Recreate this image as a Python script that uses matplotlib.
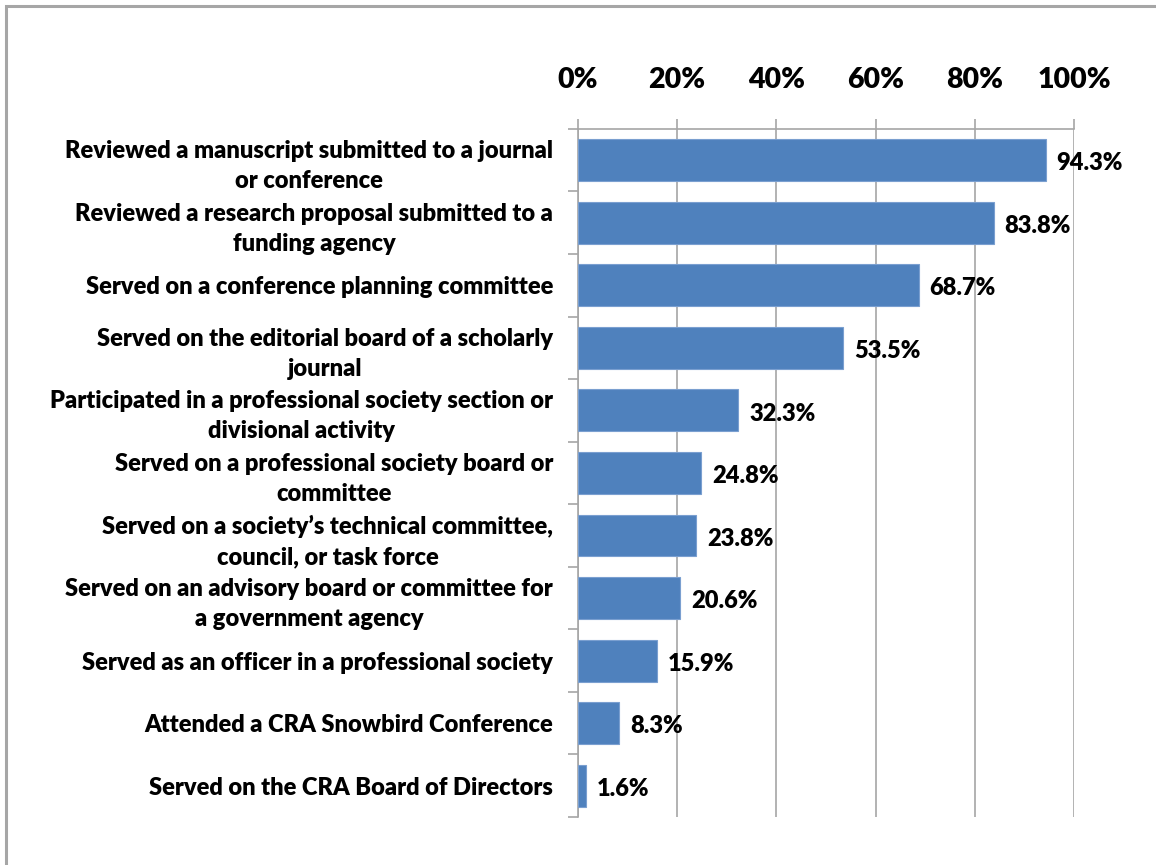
import matplotlib
matplotlib.use("Agg")
import matplotlib.pyplot as plt
from matplotlib.patches import Rectangle
from matplotlib.ticker import FixedLocator

categories = [
    "Reviewed a manuscript submitted to a journal\nor conference",
    "Reviewed a research proposal submitted to a\nfunding agency",
    "Served on a conference planning committee",
    "Served on the editorial board of a scholarly\njournal",
    "Participated in a professional society section or\ndivisional activity",
    "Served on a professional society board or\ncommittee",
    "Served on a society\u2019s technical committee,\ncouncil, or task force",
    "Served on an advisory board or committee for\na government agency",
    "Served as an officer in a professional society",
    "Attended a CRA Snowbird Conference",
    "Served on the CRA Board of Directors",
]
values = [94.3, 83.8, 68.7, 53.5, 32.3, 24.8, 23.8, 20.6, 15.9, 8.3, 1.6]
xticks = [0, 20, 40, 60, 80, 100]
xtick_labels = ["0%", "20%", "40%", "60%", "80%", "100%"]

plt.rcParams['font.family'] = ['Lato', 'DejaVu Sans']
plt.rcParams['font.weight'] = 'heavy'

fig = plt.figure(figsize=(11.56, 8.65), dpi=100)
ax = fig.add_axes([0.5, 0.0555, 0.429, 0.7955])

grid_col = '#A6A6A6'
n = len(values)
ypos = list(range(n))
ax.barh(ypos, values, height=0.67, color='#4F81BD', edgecolor='#7A9FD0', linewidth=0.8, zorder=3)
ax.set_ylim(n - 0.5, -0.5)
ax.set_xlim(0, 100)

# value labels
for y, v in zip(ypos, values):
    ax.text(v + 2.2, y + 0.05, f"{v:.1f}%", va='center', ha='left', fontsize=17,
            fontweight='heavy', zorder=4)

ax.xaxis.tick_top()
ax.set_xticks(xticks)
ax.set_xticklabels(xtick_labels, fontsize=20.5, fontweight='heavy')
ax.tick_params(axis='x', length=7, color=grid_col, width=1.2, pad=19)
ax.grid(axis='x', color=grid_col, linewidth=1.2, zorder=0)

ax.set_yticks(ypos)
ax.set_yticklabels(categories, fontsize=17, fontweight='heavy', multialignment='center',
                   linespacing=1.45)
ax.tick_params(axis='y', which='major', length=0, pad=18)
ax.yaxis.set_minor_locator(FixedLocator([i - 0.5 for i in range(n + 1)]))
ax.tick_params(axis='y', which='minor', length=7, color=grid_col, width=1.2)

for s in ['right', 'bottom']:
    ax.spines[s].set_visible(False)
for s in ['top', 'left']:
    ax.spines[s].set_color(grid_col)
    ax.spines[s].set_linewidth(1.2)

# outer chart border
fig.patches.append(Rectangle((6 / 1156, -0.1), 1.2, 1.1 - 6 / 865, transform=fig.transFigure,
                             fill=False, edgecolor='#A6A6A6', linewidth=2.2))

fig.savefig("out.png", dpi=100, facecolor='white')
